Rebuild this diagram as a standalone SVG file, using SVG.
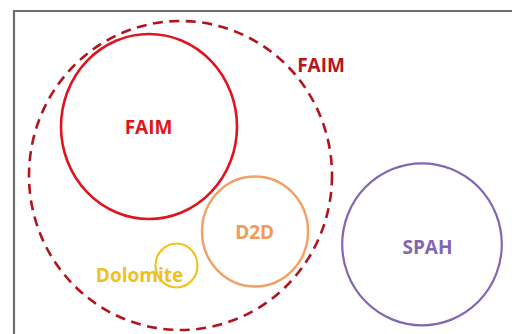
<svg xmlns="http://www.w3.org/2000/svg" width="512" height="334" viewBox="0 0 512 334">
  <style>
    text { font-family: "Open Sans", "Liberation Sans", sans-serif; font-weight: 700; font-size: 19px; text-anchor: middle; }
    .ring { fill: none; }
  </style>
  <rect width="512" height="334" fill="#ffffff"/>
  <!-- frame -->
  <path d="M14,336 V11 H514" fill="none" stroke="#6e6e6e" stroke-width="2.2"/>

  <g id="faim-group">
    <ellipse class="ring" cx="180.5" cy="175.5" rx="151.5" ry="154.5" stroke="#b0141c" stroke-width="2.6" stroke-dasharray="10 6.5"/>
    <text x="321" y="71.5" fill="#b8141c">FAIM</text>
  </g>

  <g id="faim">
    <ellipse class="ring" cx="149" cy="126.5" rx="88" ry="92.5" stroke="#e0141c" stroke-width="2.6"/>
    <text x="148.5" y="134.3" fill="#e0141c">FAIM</text>
  </g>

  <g id="d2d">
    <ellipse class="ring" cx="255" cy="231.5" rx="53" ry="55" stroke="#f2a066" stroke-width="2.4"/>
    <text x="254.7" y="239" fill="#ef9a5a">D2D</text>
  </g>

  <g id="dolomite">
    <ellipse class="ring" cx="176.5" cy="265.5" rx="21" ry="22" stroke="#f2c21c" stroke-width="2.2"/>
    <text x="139.5" y="281.7" fill="#f0c020">Dolomite</text>
  </g>

  <g id="spah">
    <ellipse class="ring" cx="422" cy="244.3" rx="79.8" ry="81" stroke="#8266b4" stroke-width="2.2"/>
    <text x="427.5" y="254" fill="#8266b4">SPAH</text>
  </g>
</svg>
